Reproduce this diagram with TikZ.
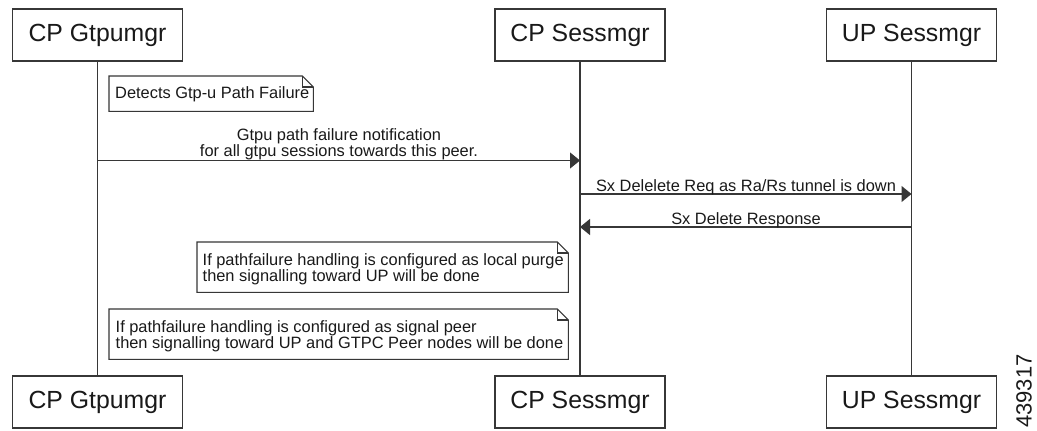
\documentclass[tikz,border=0pt]{standalone}
\usepackage{fontspec}
\setmainfont{Liberation Sans}
\usetikzlibrary{arrows.meta}
\definecolor{ln}{RGB}{55,55,55}
\definecolor{tx}{RGB}{25,25,25}
\begin{document}
\begin{tikzpicture}[x=1pt,y=-1pt,
  actor/.style={draw=ln, line width=1.2pt, minimum width=170pt, minimum height=52pt, inner sep=0pt, font=\fontsize{24.8}{28}\selectfont, text=tx},
  life/.style={draw=ln, line width=1.2pt},
  msg/.style={draw=ln, line width=1.2pt, -{Triangle[length=10pt,width=16pt]}},
  mlabel/.style={font=\fontsize{16.4}{16}\selectfont, text=tx, inner sep=0pt},
  notetext/.style={font=\fontsize{16.4}{15.2}\selectfont, text=tx, inner sep=0pt, align=left, anchor=north west},
  noteframe/.style={inner sep=0pt, anchor=north west},
  noteline/.style={draw=ln, line width=1.1pt, line join=miter}]
\fill[white] (0,0) rectangle (1037,431);
\useasboundingbox (0,0) rectangle (1037,431);

% actors
\node[actor] (ta) at (97.5,35) {CP Gtpumgr};
\node[actor] (tb) at (580,35) {CP Sessmgr};
\node[actor] (tc) at (911.5,35) {UP Sessmgr};
\node[actor] (ba) at (97.5,402) {CP Gtpumgr};
\node[actor] (bb) at (580,402) {CP Sessmgr};
\node[actor] (bc) at (911.5,402) {UP Sessmgr};

% lifelines
\draw[life] (ta.south) -- (ba.north);
\draw[life] (tb.south) -- (bb.north);
\draw[life] (tc.south) -- (bc.north);

% note frames
\node[noteframe, minimum width=204pt, minimum height=35pt] (n1) at (109,76) {};
\node[noteframe, minimum width=371pt, minimum height=50pt] (n2) at (197,242) {};
\node[noteframe, minimum width=459pt, minimum height=50pt] (n3) at (109,309) {};
\foreach \n in {n1,n2,n3}{
  \draw[noteline] (\n.north west) -- ([xshift=-11pt]\n.north east) -- ([yshift=-11pt]\n.north east) -- (\n.south east) -- (\n.south west) -- cycle;
  \draw[noteline] ([xshift=-11pt]\n.north east) |- ([yshift=-11pt]\n.north east);
}

% note texts
\node[mlabel, anchor=base west] (t1) at (115,98.5) {Detects Gtp-u Path Failure};
\node[notetext] (t2) at (202.5,253.5) {If pathfailure handling is configured as local purge\\then signalling toward UP will be done};
\node[notetext] (t3) at (115.5,320.2) {If pathfailure handling is configured as signal peer\\then signalling toward UP and GTPC Peer nodes will be done};

% message points on lifelines
\coordinate (a1) at (97.5,160.5);
\coordinate (b1) at (580,160.5);
\coordinate (b2) at (580,194);
\coordinate (c2) at (911.5,194);
\coordinate (c3) at (911.5,227);
\coordinate (b3) at (580,227);

% messages
\draw[msg] (a1) -- (b1);
\node[mlabel, anchor=north, align=center] (m1) at (339,128.5) {Gtpu path failure notification\\for all gtpu sessions towards this peer.};
\draw[msg] (b2) -- (c2);
\node[mlabel, anchor=base] (m2) at (746,191) {Sx Delelete Req as Ra/Rs tunnel is down};
\draw[msg] (c3) -- (b3);
\node[mlabel, anchor=base] (m3) at (746,224.5) {Sx Delete Response};

% figure number
\node[rotate=90, font=\fontsize{22}{22}\selectfont, text=tx, inner sep=0pt] (num) at (1024,391) {439317};
\end{tikzpicture}
\end{document}
